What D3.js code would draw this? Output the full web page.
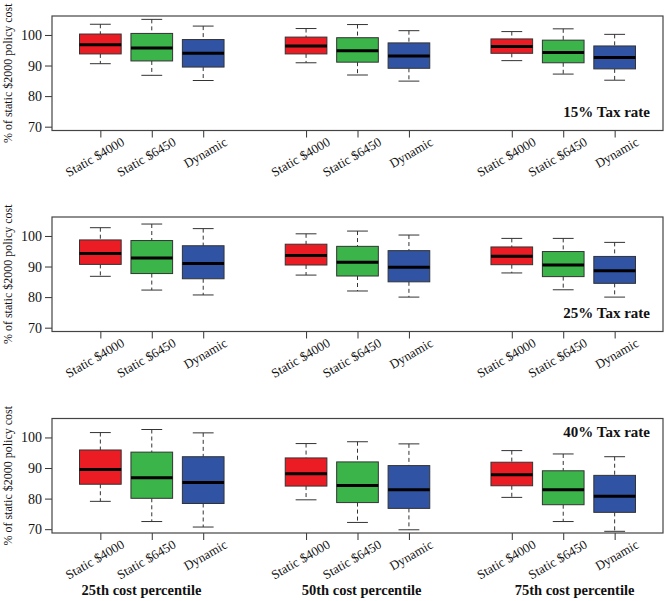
<!DOCTYPE html>
<html>
<head>
<meta charset="utf-8">
<script src="https://cdn.jsdelivr.net/npm/d3@7"></script>
<style>
  body { margin: 0; background: #fff; }
  text { font-family: "Liberation Serif", "Times New Roman", serif; }
</style>
</head>
<body>
<div id="chart"></div>
<script>
const percentiles = ["25th cost percentile", "50th cost percentile", "75th cost percentile"];
const policies = ["Static $4000", "Static $6450", "Dynamic"];
const taxRates = ["15% Tax rate", "25% Tax rate", "40% Tax rate"];
const yTicks = [70, 80, 90, 100];

// [lower whisker, q1, median, q3, upper whisker], percentile by percentile, policy by policy
const rate15 = [
    [90.6, 93.8, 96.8, 100.3, 103.5], [86.8, 91.5, 95.7, 100.5, 105.1], [85.1, 89.5, 94.0, 98.5, 102.9],
    [90.9, 93.8, 96.4, 99.3, 102.1], [86.9, 91.1, 94.8, 99.1, 103.4], [84.9, 89.1, 93.1, 97.4, 101.4],
    [91.6, 94.0, 96.2, 98.7, 101.1], [87.2, 90.9, 94.3, 98.3, 102.0], [85.2, 88.9, 92.6, 96.4, 100.2]
];
const rate25 = [
    [86.8, 90.7, 94.3, 98.7, 102.7], [82.3, 87.7, 92.8, 98.5, 103.9], [80.7, 86.0, 91.0, 96.8, 102.4],
    [87.2, 90.5, 93.6, 97.3, 100.7], [82.0, 86.9, 91.4, 96.6, 101.6], [80.0, 85.0, 89.8, 95.2, 100.3],
    [87.9, 90.6, 93.4, 96.4, 99.2], [82.4, 86.7, 90.5, 94.9, 99.2], [80.0, 84.5, 88.6, 93.3, 97.9]
];
const rate40 = [
    [79.1, 84.7, 89.5, 95.9, 101.6], [72.5, 80.1, 86.8, 95.2, 102.6], [70.7, 78.4, 85.3, 93.7, 101.5],
    [79.6, 84.1, 88.1, 93.3, 98.0], [72.2, 78.7, 84.3, 92.0, 98.6], [69.8, 76.8, 82.9, 90.8, 97.9],
    [80.4, 84.2, 87.8, 91.9, 95.7], [72.5, 78.0, 82.9, 89.1, 94.6], [69.3, 75.5, 80.8, 87.6, 93.7]
];
const panels = [rate15, rate25, rate40];

// slot positions along x (gap between percentile groups)
const slots = [1, 2, 3, 5, 6, 7, 9, 10, 11];
const percentileLabelAt = [1.8, 6.08, 10.22];

const colors = ["#EC1C24", "#3BB54A", "#3153A4"];

const W = 666, H = 601;
const left = 52, right = 663;
const panelTops = [16, 217, 418.5];
const panelH = 114.5;

const svg = d3.select("#chart").append("svg")
    .attr("width", W)
    .attr("height", H);

const x = d3.scaleLinear().domain([0.06, 11.94]).range([left, right]);
const boxW = x(0.81) - x(0);
const capW = boxW / 2;

panels.forEach((stats, pi) => {
    const top = panelTops[pi];
    const y = d3.scaleLinear().domain([68.75, 106.2]).range([top + panelH, top]);
    const g = svg.append("g");

    // y axis
    const yAxis = g.append("g")
        .attr("transform", `translate(${left},0)`)
        .call(d3.axisLeft(y).tickValues(yTicks).tickSize(7).tickPadding(3));
    yAxis.select(".domain").remove();
    yAxis.selectAll("line").attr("stroke", "#333");
    yAxis.selectAll("text")
        .style("font-family", "Liberation Serif")
        .style("font-size", "14px")
        .attr("fill", "#111");

    // x ticks
    const xAxis = g.append("g")
        .attr("transform", `translate(0,${top + panelH})`)
        .call(d3.axisBottom(x).tickValues(slots).tickSize(7).tickFormat(""));
    xAxis.select(".domain").remove();
    xAxis.selectAll("line").attr("stroke", "#333");

    // rotated category labels
    g.selectAll(".xlab")
        .data(slots)
        .enter().append("text")
        .attr("class", "xlab")
        .attr("transform", d => `translate(${x(d) + 25},${top + panelH + 14}) rotate(-30)`)
        .attr("text-anchor", "end")
        .style("font-size", "13px")
        .attr("fill", "#111")
        .text((d, i) => policies[i % 3]);

    // frame
    g.append("rect")
        .attr("x", left)
        .attr("y", top)
        .attr("width", right - left)
        .attr("height", panelH)
        .attr("fill", "none")
        .attr("stroke", "#444")
        .attr("stroke-width", 1.2);

    // y title
    g.append("text")
        .attr("transform", `translate(12,${top + panelH / 2}) rotate(-90)`)
        .attr("text-anchor", "middle")
        .style("font-size", "12px")
        .attr("fill", "#111")
        .text("% of static $2000 policy cost");

    // boxes
    const boxes = g.selectAll(".box")
        .data(stats)
        .enter().append("g")
        .attr("class", "box");

    boxes.append("line")
        .attr("x1", (d, i) => x(slots[i]))
        .attr("x2", (d, i) => x(slots[i]))
        .attr("y1", d => y(d[4]))
        .attr("y2", d => y(d[3]))
        .attr("stroke", "#333")
        .attr("stroke-dasharray", "4,3");
    boxes.append("line")
        .attr("x1", (d, i) => x(slots[i]))
        .attr("x2", (d, i) => x(slots[i]))
        .attr("y1", d => y(d[1]))
        .attr("y2", d => y(d[0]))
        .attr("stroke", "#333")
        .attr("stroke-dasharray", "4,3");

    boxes.append("line")
        .attr("x1", (d, i) => x(slots[i]) - capW / 2)
        .attr("x2", (d, i) => x(slots[i]) + capW / 2)
        .attr("y1", d => y(d[4]))
        .attr("y2", d => y(d[4]))
        .attr("stroke", "#333");
    boxes.append("line")
        .attr("x1", (d, i) => x(slots[i]) - capW / 2)
        .attr("x2", (d, i) => x(slots[i]) + capW / 2)
        .attr("y1", d => y(d[0]))
        .attr("y2", d => y(d[0]))
        .attr("stroke", "#333");

    boxes.append("rect")
        .attr("x", (d, i) => x(slots[i]) - boxW / 2)
        .attr("y", d => y(d[3]))
        .attr("width", boxW)
        .attr("height", d => y(d[1]) - y(d[3]))
        .attr("fill", (d, i) => colors[i % 3])
        .attr("stroke", "#333")
        .attr("stroke-width", 1);

    boxes.append("line")
        .attr("x1", (d, i) => x(slots[i]) - boxW / 2)
        .attr("x2", (d, i) => x(slots[i]) + boxW / 2)
        .attr("y1", d => y(d[2]))
        .attr("y2", d => y(d[2]))
        .attr("stroke", "#000")
        .attr("stroke-width", 3);

    // tax rate label
    g.append("text")
        .attr("x", right - 13)
        .attr("y", pi === 2 ? top + 18.7 : top + panelH - 14)
        .attr("text-anchor", "end")
        .style("font-size", "15px")
        .style("font-weight", "bold")
        .attr("fill", "#111")
        .text(taxRates[pi]);
});

svg.selectAll(".pct")
    .data(percentiles)
    .enter().append("text")
    .attr("class", "pct")
    .attr("x", (d, i) => x(percentileLabelAt[i]))
    .attr("y", 595)
    .attr("text-anchor", "middle")
    .style("font-size", "14.5px")
    .style("font-weight", "bold")
    .attr("fill", "#111")
    .text(d => d);
</script>
</body>
</html>
